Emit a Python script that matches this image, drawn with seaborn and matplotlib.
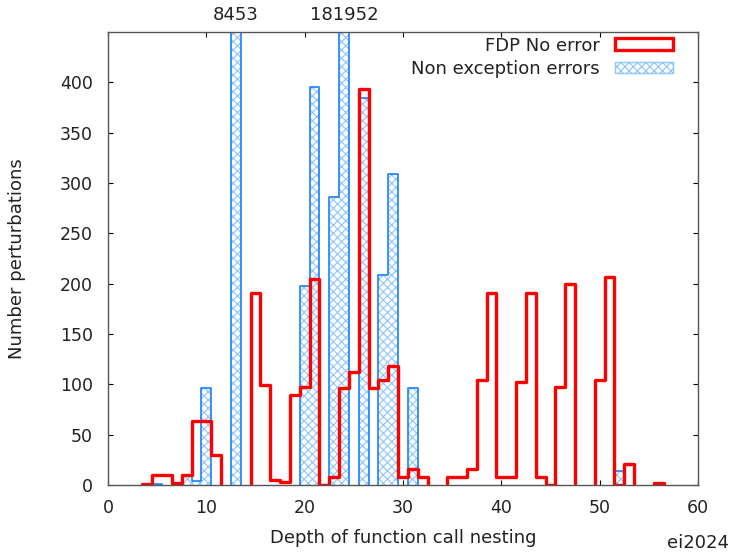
import numpy as np
import matplotlib
matplotlib.use("Agg")
import matplotlib.pyplot as plt
from matplotlib.patches import Patch
import seaborn as sns

# -----------------------------
# Data
# -----------------------------
# depth of function call nesting -> number of perturbations
fdp_depth = [4, 5, 6, 7, 8, 9, 10, 11,
             15, 16, 17, 18, 19, 20, 21, 22, 23, 24, 25, 26, 27, 28, 29, 30, 31, 32,
             35, 36, 37, 38, 39, 40, 41, 42, 43, 44, 45, 46, 47,
             50, 51, 52, 53,
             56]
fdp_count = [1, 10, 10, 2, 10, 64, 64, 30,
             191, 99, 5, 3, 89, 97, 205, 0, 8, 96, 112, 393, 96, 104, 118, 8, 16, 8,
             8, 8, 16, 104, 191, 8, 8, 102, 191, 8, 0, 97, 200,
             104, 207, 0, 21,
             2]

err_depth = [5, 7, 8, 9, 10, 13, 20, 21, 23, 24, 26, 28, 29, 31, 52]
err_count = [1, 1, 10, 4, 96, 8453, 198, 395, 286, 181952, 384, 209, 309, 96, 14]

# off-scale bars get their count printed above the frame
big_depth = [13, 24]
big_label = ["8453", "181952"]

RED = "#ff0000"
BLUE = "#1a7fff"
HATCH_BLUE = "#8cc4ff"


def split_runs(depth, count):
    # gnuplot only joins consecutive bins, so draw each run on its own
    runs = []
    cur_d, cur_c = [depth[0]], [count[0]]
    for d, c in zip(depth[1:], count[1:]):
        if d == cur_d[-1] + 1:
            cur_d.append(d)
            cur_c.append(c)
        else:
            runs.append((cur_d, cur_c))
            cur_d, cur_c = [d], [c]
    runs.append((cur_d, cur_c))
    return runs


def edges_for(d):
    # list, not array: seaborn compares bins to "auto"
    return list(np.arange(d[0] - 0.5, d[-1] + 1.5, 1.0))


def step_outline(ax, d, c, color, lw):
    sns.histplot(x=d, weights=c, bins=edges_for(d), element="step", fill=False,
                 color=color, linewidth=lw, ax=ax)
    # seaborn's unfilled step has no end walls, close them down to zero
    line = ax.lines[-1]
    x, y = line.get_data()
    line.set_data(np.r_[x[0], x, x[-1]], np.r_[0, y, 0])


sns.set_style("ticks")
plt.rcParams["font.family"] = ["DejaVu Sans"]
plt.rcParams["hatch.linewidth"] = 0.8

fig = plt.figure(figsize=(7.34, 5.55), dpi=100)
ax = fig.add_axes([108 / 734, 1 - 485 / 555, 590 / 734, 453 / 555])

# Non exception errors: hatched boxes with a blue outline
for d, c in split_runs(err_depth, err_count):
    sns.histplot(x=d, weights=c, bins=edges_for(d), element="step", fill=True,
                 facecolor="white", edgecolor=HATCH_BLUE, hatch="xxxx",
                 linewidth=0, alpha=1, ax=ax)
    step_outline(ax, d, c, BLUE, 1.2)

# FDP No error: thick red steps on top
for d, c in split_runs(fdp_depth, fdp_count):
    step_outline(ax, d, c, RED, 2.4)

ax.set_xlim(0, 60)
ax.set_ylim(0, 450)
ax.set_xticks(np.arange(0, 61, 10))
ax.set_yticks(np.arange(0, 401, 50))
ax.tick_params(direction="in", top=True, right=True, length=3.5, labelsize=12.5,
               color="black", labelcolor="#222222")
ax.tick_params(axis="x", pad=10)
ax.tick_params(axis="y", pad=11)
for s in ax.spines.values():
    s.set_color("#555555")
    s.set_linewidth(1.0)

ax.set_xlabel("Depth of function call nesting", fontsize=13, labelpad=9,
              color="#222222")
ax.set_ylabel("Number perturbations", fontsize=13, labelpad=24, color="#222222")

for x, lab in zip(big_depth, big_label):
    ax.text(x, 1 + 17 / 453, lab, transform=ax.get_xaxis_transform(),
            ha="center", va="center", fontsize=13, color="#222222")

handles = [
    Patch(facecolor="none", edgecolor=RED, linewidth=2.4, label="FDP No error"),
    Patch(facecolor="white", edgecolor=HATCH_BLUE, hatch="xxxx", linewidth=1.0,
          label="Non exception errors"),
]
leg = ax.legend(handles=handles, loc="upper right", bbox_to_anchor=(0.9576, 0.99),
                frameon=False, markerfirst=False, fontsize=13, borderaxespad=0,
                borderpad=0, handlelength=3.2, handleheight=0.6, handletextpad=0.85,
                labelspacing=0.3)
for t in leg.get_texts():
    t.set_color("#222222")

fig.text(698 / 734, 1 - 543 / 555, "ei2024", ha="center", va="center", fontsize=13,
         color="#222222")

fig.savefig("out.png", dpi=100)
